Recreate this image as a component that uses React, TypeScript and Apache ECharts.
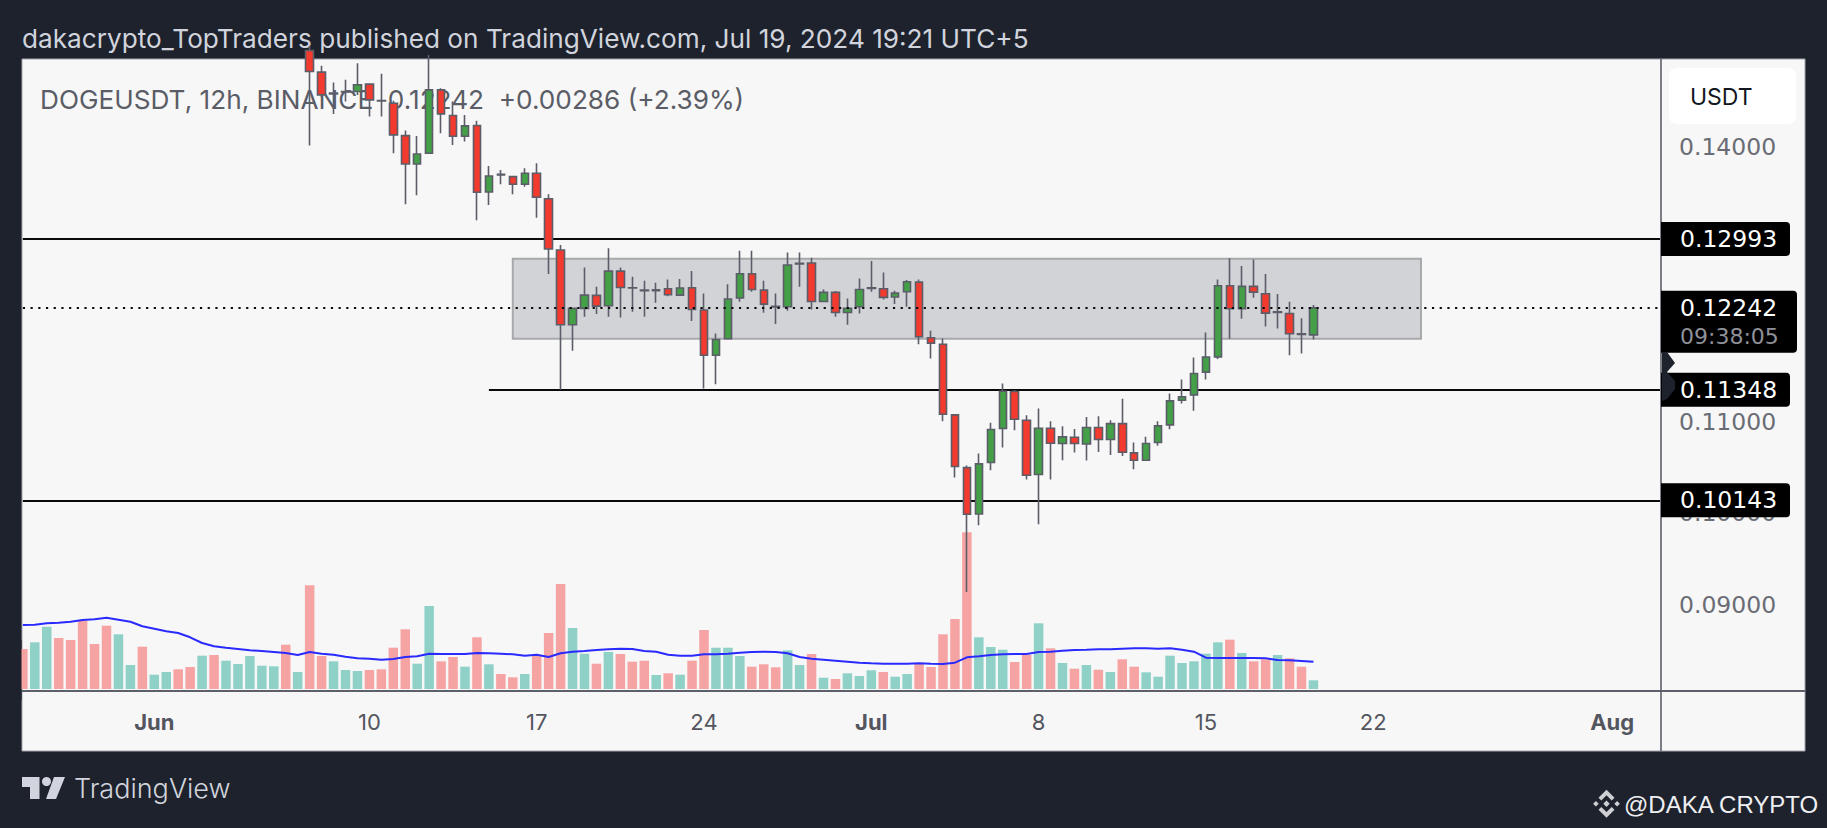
import React, { useEffect, useRef } from "react";
import * as echarts from "echarts";

const headerText = "dakacrypto_TopTraders published on TradingView.com, Jul 19, 2024 19:21 UTC+5";
const legendText = "DOGEUSDT, 12h, BINANCE  0.12242  +0.00286 (+2.39%)";
const currencyText = "USDT";
const brandText = "TradingView";
const watermarkText = "@DAKA CRYPTO";

// 12h periods, index 0 = May 26 12:00
const periodCount = 138;
const xTickLabels: Record<number, string> = { 11: "Jun", 29: "10", 43: "17", 57: "24", 71: "Jul", 85: "8", 99: "15", 113: "22", 133: "Aug" };
const monthTicks = ["Jun", "Jul", "Aug"];
const priceTicks = [0.09, 0.1, 0.11, 0.14];

const firstCandleIndex = 24;
// open, close, low, high
const candleRows: number[][] = [
  [0.1505, 0.1482, 0.14012, 0.151],
  [0.14813, 0.14565, 0.1454, 0.14882],
  [0.14584, 0.14575, 0.14358, 0.147],
  [0.14602, 0.14596, 0.14493, 0.14729],
  [0.14602, 0.14675, 0.14565, 0.14911],
  [0.14682, 0.14511, 0.14329, 0.1469],
  [0.14504, 0.14498, 0.14329, 0.14795],
  [0.14474, 0.14129, 0.13929, 0.145],
  [0.14121, 0.13812, 0.13372, 0.14176],
  [0.13812, 0.13921, 0.1347, 0.14118],
  [0.13929, 0.1462, 0.13925, 0.15],
  [0.1462, 0.14358, 0.14147, 0.14638],
  [0.1434, 0.14114, 0.14019, 0.14493],
  [0.14114, 0.14227, 0.14056, 0.14347],
  [0.14231, 0.13503, 0.13197, 0.14282],
  [0.13506, 0.13681, 0.13364, 0.1379],
  [0.13692, 0.13698, 0.1359, 0.13746],
  [0.13674, 0.1359, 0.13481, 0.1368],
  [0.1359, 0.1371, 0.13564, 0.13765],
  [0.1371, 0.13448, 0.13226, 0.13819],
  [0.13433, 0.12884, 0.12611, 0.13481],
  [0.12873, 0.12058, 0.11348, 0.12927],
  [0.12058, 0.12236, 0.11774, 0.12245],
  [0.12236, 0.12381, 0.12145, 0.12683],
  [0.12378, 0.12261, 0.12174, 0.12472],
  [0.12265, 0.12643, 0.12145, 0.12891],
  [0.12643, 0.12465, 0.12138, 0.12683],
  [0.12461, 0.12458, 0.12199, 0.12582],
  [0.12436, 0.1243, 0.12145, 0.12538],
  [0.1243, 0.1244, 0.12298, 0.12516],
  [0.12451, 0.12385, 0.1237, 0.12552],
  [0.12381, 0.12458, 0.12378, 0.12556],
  [0.12461, 0.12225, 0.12098, 0.12643],
  [0.12218, 0.11726, 0.11362, 0.124],
  [0.11726, 0.11897, 0.1141, 0.11963],
  [0.11905, 0.12338, 0.119, 0.12501],
  [0.12349, 0.12614, 0.12309, 0.12865],
  [0.12614, 0.12443, 0.12418, 0.12865],
  [0.12436, 0.12283, 0.12189, 0.12538],
  [0.12258, 0.12251, 0.12065, 0.124],
  [0.12254, 0.12709, 0.1221, 0.12847],
  [0.12727, 0.12721, 0.12472, 0.12847],
  [0.12731, 0.12312, 0.12225, 0.12789],
  [0.12312, 0.12411, 0.1231, 0.12443],
  [0.12411, 0.12192, 0.12145, 0.12425],
  [0.12192, 0.12236, 0.12058, 0.12345],
  [0.12254, 0.12443, 0.12181, 0.12563],
  [0.12461, 0.12455, 0.12418, 0.12753],
  [0.12451, 0.12356, 0.12334, 0.12629],
  [0.1236, 0.12403, 0.12283, 0.12429],
  [0.12418, 0.12527, 0.12254, 0.12545],
  [0.12523, 0.11927, 0.11846, 0.12552],
  [0.11916, 0.11857, 0.1169, 0.11992],
  [0.11846, 0.11082, 0.11006, 0.11908],
  [0.11075, 0.10511, 0.10391, 0.11082],
  [0.105, 0.09991, 0.09143, 0.10522],
  [0.09994, 0.1054, 0.09871, 0.10653],
  [0.10555, 0.10915, 0.10471, 0.10988],
  [0.10926, 0.11333, 0.10718, 0.11417],
  [0.1133, 0.11028, 0.10908, 0.11345],
  [0.11017, 0.10416, 0.10369, 0.11071],
  [0.10424, 0.10929, 0.09881, 0.11144],
  [0.10929, 0.10766, 0.10369, 0.11006],
  [0.10762, 0.10835, 0.1058, 0.10951],
  [0.10831, 0.10762, 0.10664, 0.10922],
  [0.10758, 0.10937, 0.10576, 0.11053],
  [0.10937, 0.10806, 0.10671, 0.1106],
  [0.10806, 0.1098, 0.10638, 0.11017],
  [0.1098, 0.10667, 0.10627, 0.1125],
  [0.1066, 0.1058, 0.10482, 0.10773],
  [0.1058, 0.10762, 0.10573, 0.10835],
  [0.10773, 0.10955, 0.10737, 0.11006],
  [0.10966, 0.11228, 0.10919, 0.11308],
  [0.11235, 0.11271, 0.11199, 0.11461],
  [0.11293, 0.11526, 0.11119, 0.11701],
  [0.11541, 0.11705, 0.11461, 0.11974],
  [0.11708, 0.12483, 0.11683, 0.12552],
  [0.12483, 0.12232, 0.11905, 0.12782],
  [0.12232, 0.12476, 0.12123, 0.12698],
  [0.12476, 0.12414, 0.12352, 0.12771],
  [0.12396, 0.12185, 0.12039, 0.12611],
  [0.12199, 0.12193, 0.12018, 0.12392],
  [0.12181, 0.11959, 0.11726, 0.12309],
  [0.11959, 0.11953, 0.11745, 0.1213],
  [0.11948, 0.12242, 0.11897, 0.12272],
];

const volumes = [
  40, 46.7, 62.3, 51, 49, 68, 45, 63.3, 54.7, 24, 42.3, 14.3, 17, 19.7, 22, 33.3, 34, 28.3, 25, 33, 23.3, 22.7, 44.3, 17,
  103.7, 33, 27.7, 19, 18, 19, 19.7, 41.3, 59.7, 25.3, 83, 27.7, 32, 22.3, 51.7, 24.7, 15, 11.7, 15, 33.3, 56, 105, 61,
  35.3, 25.3, 37, 35, 27.3, 28.3, 14, 15.7, 14.3, 28.3, 59, 41.3, 41.3, 33, 22.3, 24.7, 21.7, 38.7, 24, 35, 11.3, 10, 15.7,
  13, 18.7, 17, 12.3, 15, 25, 22, 54.7, 70, 156.7, 51.7, 42, 39.3, 27, 34, 65.7, 40.7, 26, 20.3, 24, 19.3, 17, 29.7, 22.3,
  16.7, 12.3, 33.3, 26, 27.7, 35.3, 46.7, 49.3, 36, 27.7, 29.7, 34, 30.7, 22.3, 8.7,
];
const volumeSides = [
  "rggrrrrrgg", "rggrrgrggg", "ggrgrrgggr", "rrrggrrgrg", "rrgrrrggrg", "rrrgrgrrgg",
  "grrrggrgrg", "ggrggrrrrr", "gggrrgrgrg", "rgrrgggggg", "grgrrgrrg",
].join("");

const volumeAverage = [
  64, 64.3, 65.7, 66.3, 67.3, 69, 69.7, 71.3, 69.3, 67.3, 62.7, 60.3, 57.7, 56, 51.7, 46, 42.7, 41.3, 40, 38.7, 38, 37, 36, 34,
  37, 35.3, 34.3, 32.3, 30.7, 30.3, 29.3, 30, 32, 32.7, 35.3, 35, 35, 35, 36, 35.7, 35.3, 34.7, 33.3, 34.3, 32, 35.7, 37.3, 38,
  39, 39.7, 40.3, 40, 38, 37.3, 34.3, 33.3, 33.3, 34.7, 34.7, 35.3, 36.3, 37, 37.3, 37, 35.7, 32, 30.3, 29.3, 28.3, 27.3, 26.3,
  25.7, 25.3, 25.3, 25.3, 25.7, 25.3, 25, 26.3, 31.7, 32.7, 34, 34.7, 35, 35, 37, 37.3, 38.3, 39, 39.3, 39.7, 39.7, 40.3, 40.7,
  40.7, 40.3, 40.7, 39.3, 37.3, 31.3, 31, 31, 31, 31, 30.7, 29, 28.7, 28, 27.3,
];

const levelLines = [
  { price: 0.12993, from: 0 },
  { price: 0.11348, from: 39 },
  { price: 0.10143, from: 0 },
];
const lastPrice = 0.12242;
const countdown = "09:38:05";
const zoneBox = { from: 41, to: 117, top: 0.12778, bottom: 0.11905 };

const BG = "#1e222d";
const PANEL = "#f7f7f7";
const FRAME = "#5d606b";
const FONT = "Inter";
const NUM_FONT = "DejaVu Sans";

const fmt5 = (v: number) => v.toFixed(5);

export default function App() {
  const ref = useRef<HTMLDivElement>(null);
  useEffect(() => {
    document.body.style.margin = "0";
    document.body.style.background = BG;
    const chart = echarts.init(ref.current!, undefined, { renderer: "svg" });
    const categories = Array.from({ length: periodCount }, (_, i) => String(i));
    const volumeData = volumes.map((v, i) => ({
      value: v,
      itemStyle: { color: volumeSides[i] === "g" ? "#8fd0c7" : "#f6a4a3" },
    }));
    const tagRows = [
      ...levelLines.map((l) => [periodCount - 1, l.price]),
      [periodCount - 1, lastPrice],
    ];
    const leftPad = 22.85;
    const plotW = 1637.15;
    const tvText = (text: string, x: number, y: number, fill: string, size: number, family = FONT, z = 0, weight = 400) => ({
      type: "text",
      x,
      y,
      z,
      silent: true,
      style: { text, fill, fontSize: size, fontFamily: family, fontWeight: weight, verticalAlign: "middle", align: "left" },
    });
    const poly = (pts: number[][], fill: string, z = 20) => ({
      type: "polygon",
      z,
      silent: true,
      shape: { points: pts },
      style: { fill },
    });
    const frameLine = (x1: number, y1: number, x2: number, y2: number, stroke: string, w: number) => ({
      type: "line",
      z: 8,
      silent: true,
      shape: { x1, y1, x2, y2 },
      style: { stroke, lineWidth: w },
    });
    const bx = 1606.5;
    const by = 803.7;
    const bn = (p: number[][]) => p.map(([a, b]) => [bx + a, by + b]);
    const bnFill = "#cfd0d4";
    const option: any = {
      animation: false,
      backgroundColor: BG,
      textStyle: { fontFamily: FONT },
      grid: [
        { left: leftPad, top: 59.3, width: plotW, height: 631.7 },
        { left: leftPad, top: 489, width: plotW, height: 200 },
      ],
      xAxis: [
        {
          type: "category",
          gridIndex: 0,
          data: categories,
          boundaryGap: false,
          axisLine: { show: false },
          axisTick: { show: false },
          splitLine: { show: false },
          axisLabel: {
            interval: (i: number) => xTickLabels[i] !== undefined,
            formatter: (_: string, i: number) => {
              const t = xTickLabels[i];
              if (t === undefined) return "";
              return monthTicks.includes(t) ? `{b|${t}}` : `{n|${t}}`;
            },
            margin: 20,
            hideOverlap: false,
            rich: {
              b: { fontFamily: FONT, fontSize: 22, fontWeight: 700, color: "#54565f" },
              n: { fontFamily: FONT, fontSize: 22, fontWeight: 400, color: "#54565f" },
            },
          },
        },
        {
          type: "category",
          gridIndex: 1,
          data: categories,
          boundaryGap: false,
          show: false,
        },
      ],
      yAxis: [
        {
          type: "value",
          gridIndex: 0,
          position: "right",
          min: 0.080631,
          max: 0.149533,
          scale: true,
          splitLine: { show: false },
          axisLine: { show: false },
          axisTick: { show: false },
          axisLabel: {
            customValues: priceTicks,
            formatter: fmt5,
            margin: 19,
            align: "left",
            color: "#6a6c75",
            fontFamily: NUM_FONT,
            fontSize: 23.5,
          },
        },
        {
          type: "value",
          gridIndex: 1,
          min: 0,
          max: 200,
          show: false,
          splitLine: { show: false },
        },
      ],
      series: [
        {
          type: "bar",
          name: "Volume",
          xAxisIndex: 1,
          yAxisIndex: 1,
          z: 2,
          barWidth: 9.5,
          data: volumeData,
        },
        {
          type: "line",
          name: "Volume MA",
          xAxisIndex: 1,
          yAxisIndex: 1,
          z: 3,
          symbol: "none",
          lineStyle: { color: "#2a2aff", width: 2 },
          data: volumeAverage,
        },
        {
          type: "candlestick",
          name: "DOGEUSDT",
          xAxisIndex: 0,
          yAxisIndex: 0,
          z: 4,
          barWidth: 8,
          encode: { x: 0, y: [1, 2, 3, 4] },
          data: candleRows.map((r, k) => [firstCandleIndex + k, ...r]),
          itemStyle: {
            color: "#43a047",
            color0: "#f23a2e",
            borderColor: "#5b5d69",
            borderColor0: "#5b5d69",
            borderWidth: 1.6,
          },
          markArea: {
            silent: true,
            z: 1,
            label: { show: false },
            itemStyle: { color: "#d2d3d7", borderColor: "#a8a9ab", borderWidth: 2 },
            data: [[
              { xAxis: zoneBox.from, yAxis: zoneBox.top },
              { xAxis: zoneBox.to, yAxis: zoneBox.bottom },
            ]],
          },
          markLine: {
            silent: true,
            z: 2,
            symbol: ["none", "none"],
            label: { show: false },
            lineStyle: { color: "#0a0a0a", width: 2, type: "solid" },
            data: levelLines.map((l) => [
              { xAxis: l.from, yAxis: l.price },
              { xAxis: periodCount - 1, yAxis: l.price },
            ]),
          },
        },
        {
          type: "custom",
          name: "Price tags",
          xAxisIndex: 0,
          yAxisIndex: 0,
          z: 10,
          encode: { x: 0, y: 1 },
          data: tagRows,
          renderItem: (params: any, api: any) => {
            const pos = api.coord([api.value(0), api.value(1)]);
            const price = api.value(1);
            const isLast = price === lastPrice;
            const x0 = pos[0] + 1;
            const y = pos[1];
            const children: any[] = [
              {
                type: "rect",
                shape: {
                  x: x0,
                  y: y - 17,
                  width: isLast ? 136 : 129,
                  height: isLast ? 62 : 34,
                  r: [0, 4, 4, 0],
                },
                style: { fill: "#000000" },
              },
              {
                type: "text",
                style: {
                  text: fmt5(price),
                  x: x0 + 19,
                  y: y,
                  fill: "#ffffff",
                  fontFamily: NUM_FONT,
                  fontSize: 23.5,
                  verticalAlign: "middle",
                  align: "left",
                },
              },
            ];
            if (isLast) {
              children.push({
                type: "text",
                style: {
                  text: countdown,
                  x: x0 + 19,
                  y: y + 29,
                  fill: "#8f9198",
                  fontFamily: NUM_FONT,
                  fontSize: 22,
                  verticalAlign: "middle",
                  align: "left",
                },
              });
            }
            return { type: "group", children };
          },
          markLine: {
            silent: true,
            z: 6,
            symbol: ["none", "none"],
            label: { show: false },
            lineStyle: { color: "#0a0a0a", width: 2.2, type: [2.2, 5.5] },
            data: [[
              { xAxis: 0, yAxis: lastPrice },
              { xAxis: periodCount - 1, yAxis: lastPrice },
            ]],
          },
        },
      ],
      graphic: {
        elements: [
          {
            type: "rect",
            z: -5,
            silent: true,
            shape: { x: 22, y: 59, width: 1783, height: 692 },
            style: { fill: PANEL, stroke: "#a3a5ab", lineWidth: 1 },
          },
          // left margin cover, so that the half bar at the left edge is cut at the panel
          { type: "rect", z: 8, silent: true, shape: { x: 0, y: 640, width: 21.5, height: 60 }, style: { fill: BG } },
          frameLine(22, 691, 1805, 691, FRAME, 2),
          frameLine(1661, 59, 1661, 751, FRAME, 1.6),
          tvText(headerText, 22, 38, "#d1d4dc", 26.2),
          tvText(legendText, 40, 99, "#5a5c66", 26.2, FONT, 0),
          {
            type: "rect",
            z: 1,
            silent: true,
            shape: { x: 1669, y: 68, width: 127, height: 56, r: 8 },
            style: { fill: "#ffffff" },
          },
          tvText(currencyText, 1690, 97, "#131722", 23, FONT, 2),
          // TradingView mark
          poly([[22, 777], [39.5, 777], [39.5, 799], [30, 799], [30, 787], [22, 787]], "#d1d4dc", 2),
          { type: "circle", z: 2, silent: true, shape: { cx: 46.5, cy: 781.5, r: 4.5 }, style: { fill: "#d1d4dc" } },
          poly([[54, 777], [65, 777], [56, 799], [46, 799]], "#d1d4dc", 2),
          tvText(brandText, 74, 788, "#d1d4dc", 27, FONT, 2, 300),
          // arrow flags on the price scale
          poly([[1662, 352], [1667, 352], [1675, 363], [1667, 372], [1675, 381], [1675, 389], [1667, 399], [1662, 401]], BG, 20),
          // Binance mark
          poly(bn([[0, -14], [8, -6], [5.2, -3.2], [0, -8.4], [-5.2, -3.2], [-8, -6]]), bnFill, 2),
          poly(bn([[0, 14], [8, 6], [5.2, 3.2], [0, 8.4], [-5.2, 3.2], [-8, 6]]), bnFill, 2),
          poly(bn([[0, -3.2], [3.2, 0], [0, 3.2], [-3.2, 0]]), bnFill, 2),
          poly(bn([[-10.6, -2.8], [-7.8, 0], [-10.6, 2.8], [-13.4, 0]]), bnFill, 2),
          poly(bn([[10.6, -2.8], [13.4, 0], [10.6, 2.8], [7.8, 0]]), bnFill, 2),
          tvText(watermarkText, 1624, 804, "#eeeff2", 24, "Liberation Sans", 2),
        ],
      },
    };
    chart.setOption(option);
    return () => chart.dispose();
  }, []);
  return <div ref={ref} style={{ position: "absolute", left: 0, top: 0, width: 1827, height: 828 }} />;
}
